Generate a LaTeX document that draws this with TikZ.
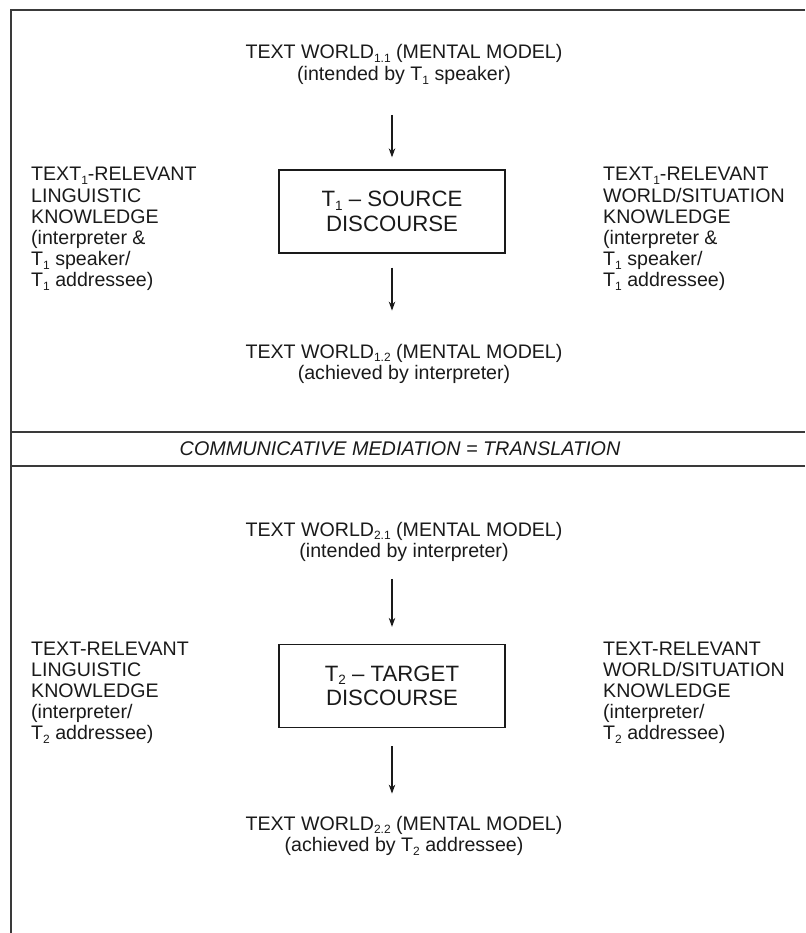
\documentclass[tikz,border=0pt]{standalone}
\usepackage{fontspec}
\setmainfont{Liberation Sans}
\usetikzlibrary{arrows.meta}
\definecolor{ink}{HTML}{1A1A1A}
\definecolor{rule}{HTML}{3A3A3A}
\newcommand\sub[1]{\raisebox{-0.2em}{\fontsize{12}{12}\selectfont #1}}
\newcommand\bsub[1]{\raisebox{-0.16em}{\fontsize{13.5}{13.5}\selectfont #1}}
\newcommand\ctrlines[1]{\vtop{\baselineskip=21.6pt\halign{\hfil##\hfil\cr#1\crcr}}}
\newcommand\leftlines[1]{\vtop{\baselineskip=21.2pt\halign{##\hfil\cr#1\crcr}}}
\tikzset{
  txt/.style={inner sep=0pt, text=ink, font=\fontsize{19.6}{21.2}\selectfont},
  title/.style={txt, anchor=base},
  side/.style={txt, anchor=base west},
  disc/.style={draw=ink, line width=1.3pt, minimum width=226pt, minimum height=83pt,
    inner sep=0pt, align=center, text=ink, font=\fontsize{22.2}{24.5}\selectfont},
  arr/.style={draw=ink, line width=1.2pt, -{Stealth[length=9pt,width=6.5pt]}},
  frame/.style={draw=rule, line width=1.6pt}
}
\begin{document}
\begin{tikzpicture}[x=1pt,y=-1pt]
\useasboundingbox (0,0) rectangle (805,933);
% frame
\draw[frame] (805,10) -- (11,10) -- (11,933);
\draw[frame] (11,432) -- (805,432);
\draw[frame] (11,466) -- (805,466);
\node[txt, font=\fontsize{19.8}{21}\selectfont\itshape] (med) at (400,449) {COMMUNICATIVE MEDIATION = TRANSLATION};

% upper part
\node[title] (t11) at (404,59) {\ctrlines{TEXT WORLD\sub{1.1} (MENTAL MODEL)\cr (intended by T\sub{1} speaker)}};
\node[disc] (b1) at (392,211.5) {T\bsub{1} -- SOURCE\\DISCOURSE};
\node[title] (t12) at (404,358) {\ctrlines{TEXT WORLD\sub{1.2} (MENTAL MODEL)\cr (achieved by interpreter)}};
\node[side] (l1) at (31,181) {\leftlines{TEXT\sub{1}-RELEVANT\cr LINGUISTIC\cr KNOWLEDGE\cr (interpreter \&\cr T\sub{1} speaker/\cr T\sub{1} addressee)}};
\node[side] (r1) at (603,181) {\leftlines{TEXT\sub{1}-RELEVANT\cr WORLD/SITUATION\cr KNOWLEDGE\cr (interpreter \&\cr T\sub{1} speaker/\cr T\sub{1} addressee)}};
\draw[arr, shorten <=30pt, shorten >=12pt] (b1.north |- t11.south) -- (b1.north);
\draw[arr, shorten <=14pt, shorten >=33pt] (b1.south) -- (b1.south |- t12.north);

% lower part
\node[title] (t21) at (404,536) {\ctrlines{TEXT WORLD\sub{2.1} (MENTAL MODEL)\cr (intended by interpreter)}};
\node[disc] (b2) at (392,686) {T\bsub{2} -- TARGET\\DISCOURSE};
\node[title] (t22) at (404,830) {\ctrlines{TEXT WORLD\sub{2.2} (MENTAL MODEL)\cr (achieved by T\sub{2} addressee)}};
\node[side] (l2) at (31,655) {\leftlines{TEXT-RELEVANT\cr LINGUISTIC\cr KNOWLEDGE\cr (interpreter/\cr T\sub{2} addressee)}};
\node[side] (r2) at (603,655) {\leftlines{TEXT-RELEVANT\cr WORLD/SITUATION\cr KNOWLEDGE\cr (interpreter/\cr T\sub{2} addressee)}};
\draw[arr, shorten <=17pt, shorten >=17pt] (b2.north |- t21.south) -- (b2.north);
\draw[arr, shorten <=18pt, shorten >=22pt] (b2.south) -- (b2.south |- t22.north);
\end{tikzpicture}
\end{document}
